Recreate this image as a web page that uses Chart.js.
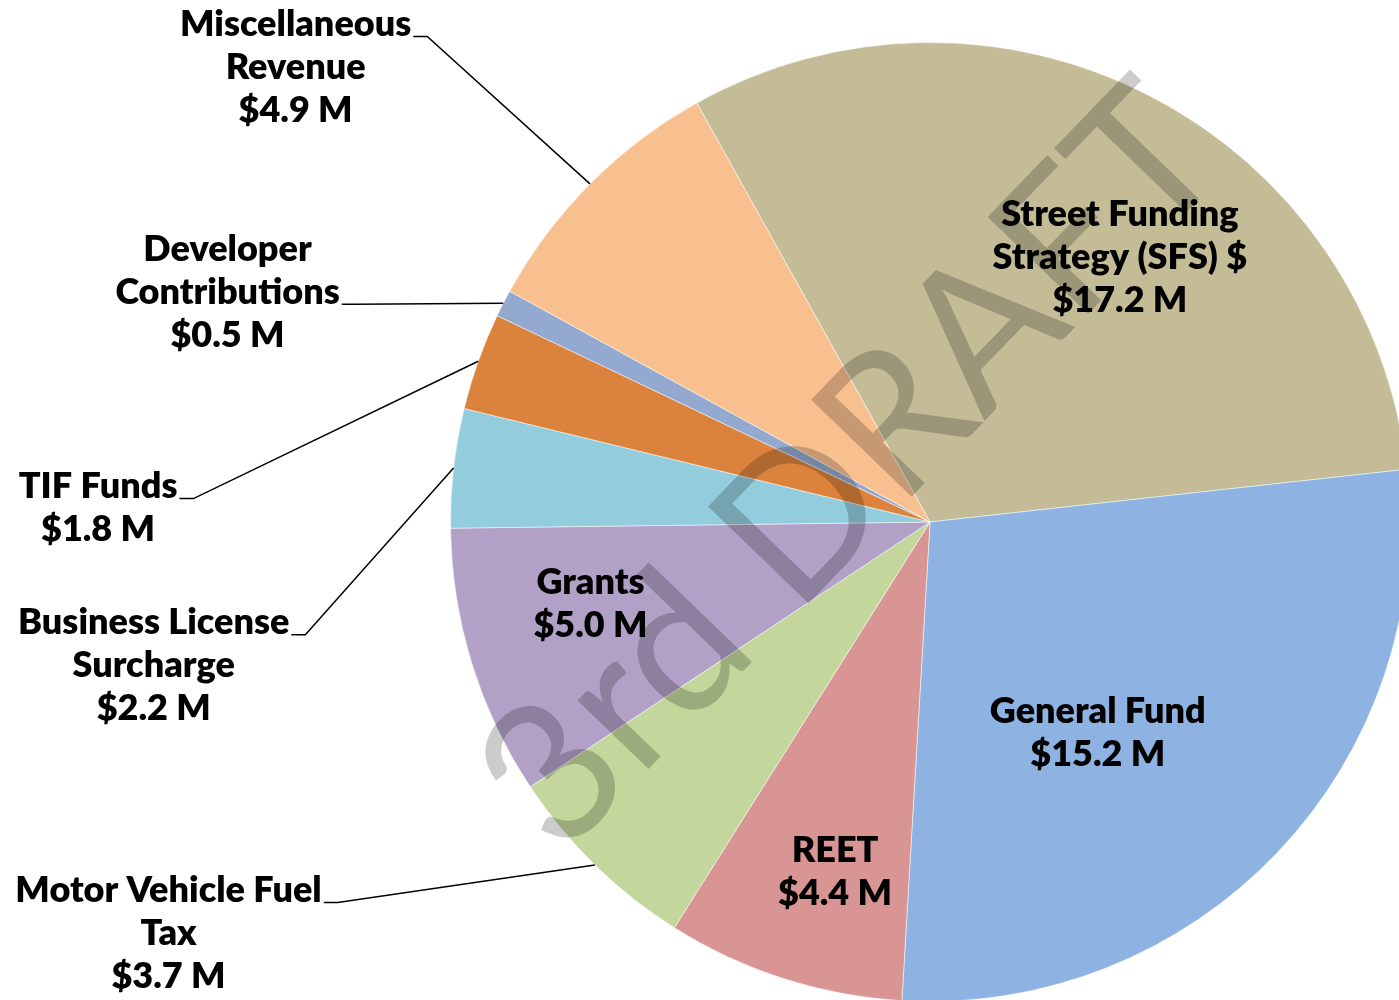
<!DOCTYPE html>
<html lang="en">
<head>
    <meta charset="UTF-8">
    <title>Street Funding Sources</title>
    <style>
        * {
            margin: 0;
            padding: 0;
            box-sizing: border-box;
        }

        body {
            background-color: #ffffff;
            overflow: hidden;
        }

        .frame {
            width: 1399px;
            height: 1000px;
            overflow: hidden;
        }
    </style>
</head>
<body>
    <div class="frame">
        <canvas id="fundChart" width="1420" height="1010"></canvas>
    </div>

    <script src="https://cdn.jsdelivr.net/npm/chart.js"></script>
    <script>
        // Funding sources, in the order they run clockwise round the pie
        const categories = [
            'Street Funding Strategy (SFS) $',
            'General Fund',
            'REET',
            'Motor Vehicle Fuel Tax',
            'Grants',
            'Business License Surcharge',
            'TIF Funds',
            'Developer Contributions',
            'Miscellaneous Revenue'
        ];
        const amounts = [17.2, 15.2, 4.4, 3.7, 5.0, 2.2, 1.8, 0.5, 4.9]; // $ millions

        // How each label wraps, as in the original
        const labelLines = [
            ['Street Funding', 'Strategy (SFS) $'],
            ['General Fund'],
            ['REET'],
            ['Motor Vehicle Fuel', 'Tax'],
            ['Grants'],
            ['Business License', 'Surcharge'],
            ['TIF Funds'],
            ['Developer', 'Contributions'],
            ['Miscellaneous', 'Revenue']
        ];

        const sliceColors = [
            '#C4BC97', '#8EB3E2', '#D99594', '#C3D69B', '#B1A1C6',
            '#93CCDC', '#DB833D', '#93A9CF', '#F9C08F'
        ];

        // label block centre, in units of the pie radius from the pie centre
        const labelSpots = [
            { dx: 0.396, dy: -0.552 },
            { dx: 0.350, dy: 0.440 },
            { dx: -0.198, dy: 0.729 },
            { dx: -1.588, dy: 0.858, leader: true },
            { dx: -0.708, dy: 0.171 },
            { dx: -1.619, dy: 0.300, leader: true },
            { dx: -1.735, dy: -0.029, leader: true },
            { dx: -1.465, dy: -0.479, leader: true },
            { dx: -1.323, dy: -0.948, leader: true }
        ];

        const LABEL_FONT = '800 36px Lato, "Open Sans", sans-serif';
        const LINE_H = 43;

        // Draw slice labels and leader lines
        const sliceLabels = {
            id: 'sliceLabels',
            afterDatasetsDraw(chart) {
                const ctx = chart.ctx;
                const arcs = chart.getDatasetMeta(0).data;
                ctx.save();
                ctx.font = LABEL_FONT;
                ctx.fillStyle = '#000';
                ctx.textAlign = 'center';
                ctx.textBaseline = 'middle';

                arcs.forEach((arc, i) => {
                    const spot = labelSpots[i];
                    const r = arc.outerRadius;
                    const bx = arc.x + spot.dx * r;
                    const by = arc.y + spot.dy * r;
                    const lines = labelLines[i].concat(['$' + amounts[i].toFixed(1) + ' M']);
                    const top = by - (lines.length - 1) * LINE_H / 2;

                    let widest = 0, widestIdx = 0;
                    lines.forEach((txt, k) => {
                        ctx.fillText(txt, bx, top + k * LINE_H);
                        const w = ctx.measureText(txt).width;
                        if (w > widest) { widest = w; widestIdx = k; }
                    });

                    if (spot.leader) {
                        const mid = (arc.startAngle + arc.endAngle) / 2;
                        const ex = arc.x + Math.cos(mid) * r;
                        const ey = arc.y + Math.sin(mid) * r;
                        const sx = bx + widest / 2 + 2;
                        const sy = top + widestIdx * LINE_H + 12;
                        ctx.beginPath();
                        ctx.moveTo(sx, sy);
                        ctx.lineTo(sx + 14, sy);
                        ctx.lineTo(ex, ey);
                        ctx.strokeStyle = '#000';
                        ctx.lineWidth = 1.5;
                        ctx.stroke();
                    }
                });
                ctx.restore();
            }
        };

        // "3rd DRAFT" stamp across the chart
        const draftStamp = {
            id: 'draftStamp',
            afterDraw(chart) {
                const ctx = chart.ctx;
                const arc = chart.getDatasetMeta(0).data[0];
                const r = arc.outerRadius;
                ctx.save();
                ctx.translate(arc.x - 0.07 * r, arc.y - 0.02 * r);
                ctx.rotate(-46 * Math.PI / 180);
                ctx.font = '195px Lato, "Open Sans", sans-serif';
                ctx.fillStyle = 'rgba(0, 0, 0, 0.2)';
                ctx.textAlign = 'center';
                ctx.textBaseline = 'alphabetic';
                ctx.fillText('3rd DRAFT', 0, 0);
                ctx.restore();
            }
        };

        function initializeChart() {
            const ctx = document.getElementById('fundChart').getContext('2d');
            new Chart(ctx, {
                type: 'pie',
                data: {
                    labels: categories,
                    datasets: [{
                        data: amounts,
                        backgroundColor: sliceColors,
                        borderColor: 'rgba(255,255,255,0.5)',
                        borderWidth: 1
                    }]
                },
                options: {
                    responsive: false,
                    animation: false,
                    devicePixelRatio: 1,
                    rotation: -29.1,
                    layout: {
                        padding: { left: 450, top: 42, right: 10, bottom: 8 }
                    },
                    plugins: {
                        legend: { display: false },
                        tooltip: { enabled: false }
                    }
                },
                plugins: [sliceLabels, draftStamp]
            });
        }

        window.onload = initializeChart;
    </script>
</body>
</html>
